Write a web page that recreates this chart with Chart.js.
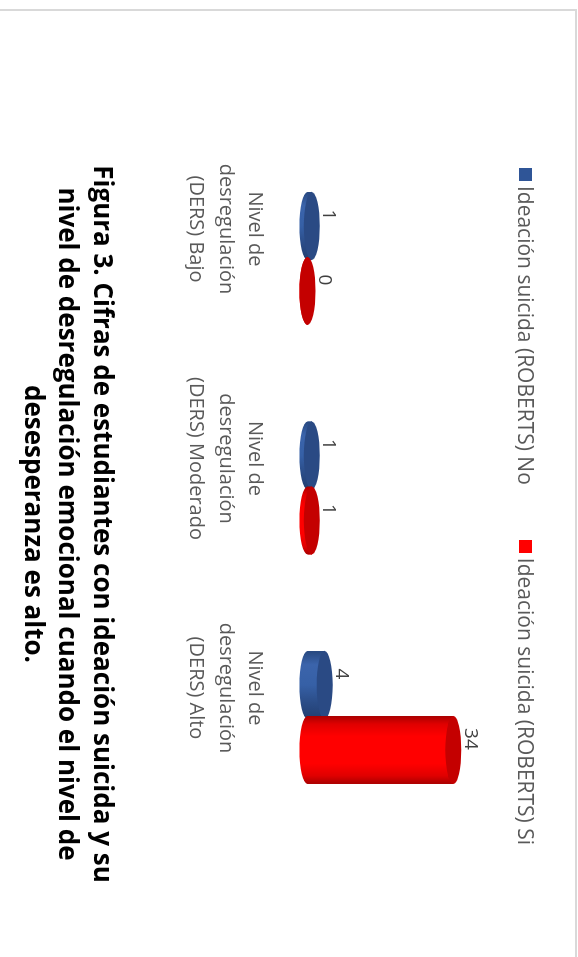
<!DOCTYPE html>
<html>
<head>
<meta charset="utf-8">
<script src="https://cdn.jsdelivr.net/npm/chart.js@4/dist/chart.umd.min.js"></script>
<style>
html,body{margin:0;padding:0;background:#fff;overflow:hidden;width:578px;height:957px;}
#rot{position:absolute;left:0;top:0;width:947px;height:576px;transform-origin:0 0;transform:translate(576px,10px) rotate(90deg);}
#frame{position:absolute;left:-1px;top:-1px;width:1200px;height:800px;border-left:2px solid #d9d9d9;border-top:2px solid #d9d9d9;}
#cv{position:absolute;left:0;top:0;}
#legend{position:absolute;left:0;width:993px;top:36px;height:28px;display:flex;justify-content:center;align-items:center;gap:55px;font:21px 'Open Sans';color:#595959;}
.li{display:flex;align-items:center;white-space:nowrap;}
.sw{width:13px;height:13px;margin-right:5px;}
#cap{position:absolute;left:0;width:1028px;top:455px;text-align:center;font:bold 26px 'Open Sans';line-height:34.5px;color:#000;}
</style>
</head>
<body>
<div id="rot">
  <div id="frame"></div>
  <canvas id="cv" width="947" height="576"></canvas>
  <div id="legend"></div>
  <div id="cap">Figura 3. Cifras de estudiantes con ideación suicida y su<br>nivel de desregulación emocional cuando el nivel de<br>desesperanza es alto.</div>
</div>
<script>
const categories = [
  ["Nivel de", "desregulación", "(DERS) Bajo"],
  ["Nivel de", "desregulación", "(DERS) Moderado"],
  ["Nivel de", "desregulación", "(DERS) Alto"]
];
const seriesNames = ["Ideación suicida (ROBERTS) No", "Ideación suicida (ROBERTS) Si"];
const valuesNo = [1, 1, 4];
const valuesSi = [0, 1, 34];
const seriesColors = ["#2F5597", "#FF0000"];

const shades = [
  {stops: [[0,'#27487f'],[0.2,'#3b64ab'],[0.5,'#3660a6'],[0.75,'#2b4d88'],[1,'#223e70']], cap: '#2a4a84'},
  {stops: [[0,'#a80000'],[0.12,'#e00000'],[0.3,'#ff0000'],[0.7,'#ff0000'],[0.88,'#e00000'],[1,'#a80000']], cap: '#c40000'}
];

// HTML legend built from the series arrays
const lg = document.getElementById('legend');
seriesNames.forEach((n, i) => {
  const d = document.createElement('div'); d.className = 'li';
  const s = document.createElement('span'); s.className = 'sw'; s.style.background = seriesColors[i];
  const t = document.createElement('span'); t.textContent = n;
  d.appendChild(s); d.appendChild(t); lg.appendChild(d);
});

const cylinderPlugin = {
  id: 'cylinder',
  afterDatasetsDraw(chart) {
    const ctx = chart.ctx;
    const r = 8;
    chart.data.datasets.forEach((ds, di) => {
      const meta = chart.getDatasetMeta(di);
      meta.data.forEach((el) => {
        const w = el.width, x = el.x, top = el.y, base = el.base;
        const g = ctx.createLinearGradient(x - w/2, 0, x + w/2, 0);
        shades[di].stops.forEach(s => g.addColorStop(s[0], s[1]));
        ctx.save();
        ctx.beginPath();
        ctx.moveTo(x - w/2, top);
        ctx.lineTo(x - w/2, base);
        ctx.ellipse(x, base, w/2, r, 0, Math.PI, 0, true);
        ctx.lineTo(x + w/2, top);
        ctx.closePath();
        ctx.fillStyle = g;
        ctx.fill();
        ctx.beginPath();
        ctx.ellipse(x, top, w/2, r, 0, 0, Math.PI * 2);
        ctx.fillStyle = shades[di].cap;
        ctx.fill();
        ctx.restore();
      });
    });
    ctx.save();
    ctx.font = "19px 'Open Sans'";
    ctx.fillStyle = '#404040';
    ctx.textAlign = 'center';
    ctx.textBaseline = 'middle';
    chart.data.datasets.forEach((ds, di) => {
      const meta = chart.getDatasetMeta(di);
      meta.data.forEach((el, i) => {
        ctx.fillText(String(ds.data[i]), el.x - 11, el.y - 17);
      });
    });
    ctx.restore();
  }
};

new Chart(document.getElementById('cv'), {
  type: 'bar',
  data: {
    labels: categories,
    datasets: [
      {label: seriesNames[0], data: valuesNo, backgroundColor: seriesColors[0], categoryPercentage: 0.566, barPercentage: 1.046},
      {label: seriesNames[1], data: valuesSi, backgroundColor: seriesColors[1], categoryPercentage: 0.566, barPercentage: 1.046}
    ]
  },
  options: {
    responsive: false,
    animation: false,
    devicePixelRatio: 1,
    layout: {padding: {left: 133.75, right: 124.75, top: 54, bottom: 143.5}},
    plugins: {legend: {display: false}, tooltip: {enabled: false}, title: {display: false}},
    scales: {
      x: {
        grid: {display: false, drawTicks: false},
        border: {display: false},
        ticks: {padding: 37.75, labelOffset: -29.5, color: '#595959', maxRotation: 0, autoSkip: false,
                font: {family: "'Open Sans'", size: 20, lineHeight: '29.5px'}}
      },
      y: {display: false, min: 0, max: 50}
    }
  },
  plugins: [cylinderPlugin]
});
</script>
</body>
</html>
